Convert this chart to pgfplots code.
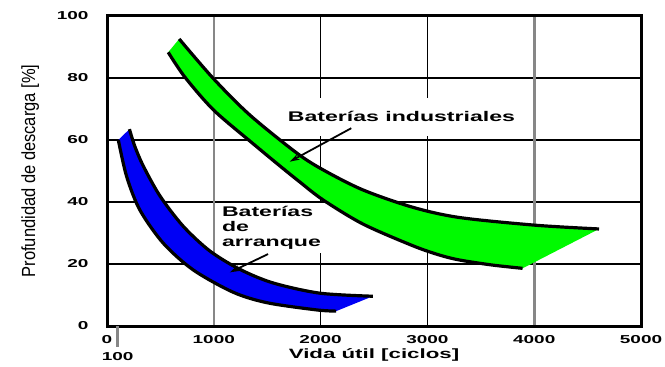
\documentclass[border=0pt]{standalone}
\usepackage{pgfplots}
\pgfplotsset{compat=1.18}
\usepgfplotslibrary{fillbetween}
\usetikzlibrary{arrows.meta}
\usepackage{fontspec}
\setmainfont{Liberation Sans}
\newfontfamily\wfont{Liberation Sans}[FakeStretch=1.65]
\definecolor{bandgreen}{RGB}{0,250,0}
\definecolor{bandblue}{RGB}{0,0,245}
\definecolor{gridgray}{RGB}{135,135,135}
\newcommand{\tickfont}{\wfont\bfseries\fontsize{11.5bp}{11.5bp}\selectfont}
\newcommand{\lblfont}{\wfont\bfseries\fontsize{14bp}{15bp}\selectfont}

\begin{document}
\begin{tikzpicture}
\begin{axis}[
  scale only axis, width=534bp, height=310bp,
  xmin=0, xmax=5000, ymin=0, ymax=100,
  xtick={0,1000,...,5000}, ytick={0,20,...,100},
  major tick length=0pt,
  axis line style={line width=3bp},
  xmajorgrids, ymajorgrids,
  grid style={black, line width=1.1bp},
  extra x ticks={1000,4000},
  extra x tick labels={{},{}},
  extra x tick style={grid=major, major grid style={gridgray, line width=2.6bp}, major tick length=0pt},
  /pgf/number format/assume math mode=true,
  /pgf/number format/1000 sep={},
  xticklabel style={font=\tickfont, anchor=center, yshift=-14bp},
  yticklabel style={font=\tickfont, anchor=east, xshift=-15bp},
  xlabel={Vida útil [ciclos]},
  xlabel style={font=\wfont\bfseries\fontsize{13.5bp}{14bp}\selectfont, at={(axis description cs:0.5,-0.094)}, anchor=center},
  ylabel={\scalebox{1}[1.15]{Profundidad de descarga [\%]}},
  ylabel style={font=\fontsize{16.5bp}{17bp}\selectfont, at={(axis description cs:-0.144,0.5)}, anchor=center},
  clip=false,
]
% white label boxes (interrupt grid lines)
\node[fill=white, font=\lblfont, minimum height=38bp, inner xsep=4bp] at (axis cs:2757,67.5) {Baterías industriales};
\node[fill=white, font=\lblfont, align=left, anchor=west, inner sep=3bp] at (axis cs:1047,31.6) {Baterías\\de\\arranque};

% green band (industrial batteries)
\addplot[name path=gu, draw=none, smooth] coordinates {
 (676,92.6) (994,79.9) (1336,68.1) (1773,55.9) (2022,50.4) (2396,43.9)
 (2863,38.3) (3299,35.0) (4016,32.5) (4607,31.3)};
\addplot[name path=gl, draw=none, smooth] coordinates {
 (573,88.3) (729,80.3) (1000,69.6) (1368,58.8) (1620,51.6) (1800,46.6) (2022,40.7)
 (2396,32.9) (2863,25.9) (3112,22.9) (3299,21.3) (3600,19.7) (3891,18.6)};
\addplot[fill=bandgreen, draw=none] fill between[of=gu and gl];

% blue band (starter batteries)
\addplot[name path=bu, draw=none, smooth] coordinates {
 (210,63.5) (260,58.0) (340,51.6) (495,42.0) (713,32.2) (963,24.2)
 (1243,18.3) (1554,13.9) (1991,10.6) (2489,9.6)};
\addplot[name path=bl, draw=none, smooth] coordinates {
 (106,60.0) (184,48.2) (308,37.4) (527,26.7) (807,18.1) (1181,10.9)
 (1500,7.5) (1960,5.2) (2146,4.8)};
\addplot[fill=bandblue, draw=none] fill between[of=bu and bl];

% black edges
\addplot[black, line width=3.2bp, smooth] coordinates {
 (676,92.6) (994,79.9) (1336,68.1) (1773,55.9) (2022,50.4) (2396,43.9)
 (2863,38.3) (3299,35.0) (4016,32.5) (4607,31.3)};
\addplot[black, line width=3.2bp, smooth] coordinates {
 (573,88.3) (729,80.3) (1000,69.6) (1368,58.8) (1620,51.6) (1800,46.6) (2022,40.7)
 (2396,32.9) (2863,25.9) (3112,22.9) (3299,21.3) (3600,19.7) (3891,18.6)};
\addplot[black, line width=3.2bp, smooth] coordinates {
 (210,63.5) (260,58.0) (340,51.6) (495,42.0) (713,32.2) (963,24.2)
 (1243,18.3) (1554,13.9) (1991,10.6) (2489,9.6)};
\addplot[black, line width=3.2bp, smooth] coordinates {
 (106,60.0) (184,48.2) (308,37.4) (527,26.7) (807,18.1) (1181,10.9)
 (1500,7.5) (1960,5.2) (2146,4.8)};

% arrows
\draw[line width=1.8bp, -{Stealth[length=10bp, width=6bp]}] (axis cs:2287,63.8) -- (axis cs:1710,53.0);
\draw[line width=1.8bp, -{Stealth[length=10bp, width=6bp]}] (axis cs:1508,23.2) -- (axis cs:1150,17.3);

% extra "100" cycles mark
\draw[gridgray, line width=2.6bp] (axis cs:100,0) -- ++(0,-21bp);
\node[font=\tickfont] at (axis cs:100,0) [yshift=-31bp] {100};
\end{axis}
\pgfresetboundingbox
\path[use as bounding box] ([shift={(-107bp,-40bp)}]current axis.south west) rectangle ([shift={(24bp,16bp)}]current axis.north east);
\end{tikzpicture}
\end{document}
